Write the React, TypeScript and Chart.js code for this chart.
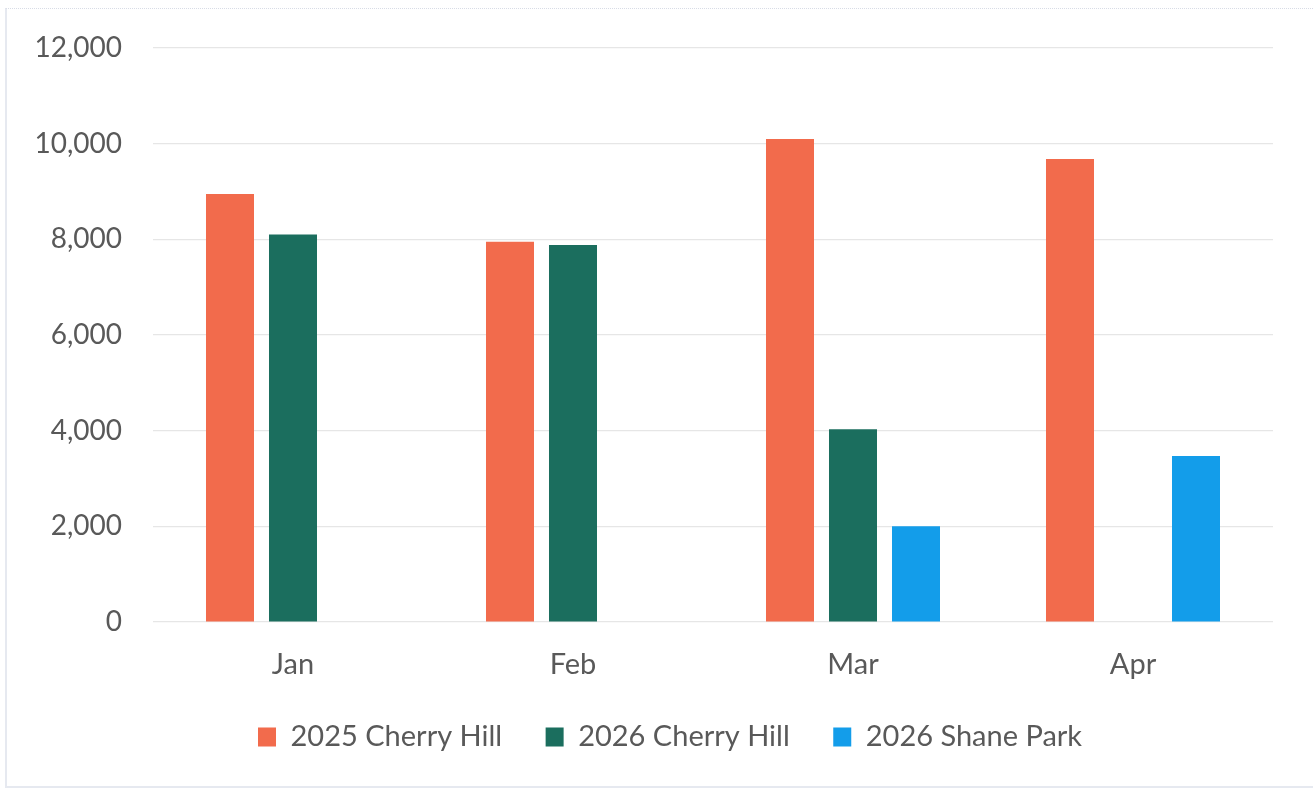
import React, { useEffect, useRef } from "react";
import { Chart, registerables } from "chart.js";

Chart.register(...registerables);

const categories = ["Jan", "Feb", "Mar", "Apr"];
const seriesNames = ["2025 Cherry Hill", "2026 Cherry Hill", "2026 Shane Park"];
const cherryHill2025 = [8950, 7950, 10100, 9680];
const cherryHill2026 = [8100, 7880, 4030, null];
const shanePark2026 = [null, null, 2000, 3470];
const seriesColors = ["#F26B4C", "#1B6E5E", "#139DEA"];
const yMax = 12000;
const yStep = 2000;

const FONT = "Lato, 'Open Sans', sans-serif";
const TEXT = "#595959";
const LEGEND_PAD = 43.5;

const legendPlacer = {
  id: "legendPlacer",
  afterLayout(chart: any) {
    const lg = chart.legend;
    if (!lg) return;
    const h = lg.height;
    lg.top = 679;
    lg.bottom = lg.top + h;
    lg.left = 258 - LEGEND_PAD;
    lg.right = chart.width;
    lg.width = lg.right - lg.left;
  },
};

export default function App() {
  const canvasRef = useRef<HTMLCanvasElement | null>(null);

  useEffect(() => {
    document.body.style.margin = "0";
    const ctx = canvasRef.current!.getContext("2d")!;
    const seriesValues = [cherryHill2025, cherryHill2026, shanePark2026];
    const chart = new Chart(ctx, {
      type: "bar",
      data: {
        labels: categories,
        datasets: seriesNames.map((name, i) => ({
          label: name,
          data: seriesValues[i],
          backgroundColor: seriesColors[i],
          borderWidth: 0,
          categoryPercentage: 0.675,
          barPercentage: 0.762,
        })),
      },
      options: {
        animation: false,
        responsive: false,
        maintainAspectRatio: false,
        layout: { padding: { top: 48, right: 40, bottom: 17.5, left: 0 } },
        plugins: {
          title: { display: false },
          tooltip: { enabled: false },
          legend: {
            position: "bottom",
            align: "start",
            labels: {
              font: { family: FONT, size: 29 },
              color: TEXT,
              boxWidth: 18,
              boxHeight: 19,
              padding: LEGEND_PAD,
            },
          },
        },
        scales: {
          x: {
            grid: { display: false, drawTicks: false },
            border: { display: false },
            ticks: {
              font: { family: FONT, size: 29 },
              color: TEXT,
              padding: 25,
            },
            afterFit: (scale: any) => {
              scale.height = 68;
            },
          },
          y: {
            min: 0,
            max: yMax,
            grid: { color: "#E6E6E6", lineWidth: 1.2, drawTicks: false },
            border: { display: false },
            ticks: {
              stepSize: yStep,
              font: { family: FONT, size: 28 },
              color: TEXT,
              padding: 31,
            },
            afterFit: (scale: any) => {
              scale.width = 153;
            },
          },
        },
      },
      plugins: [legendPlacer],
    });
    return () => chart.destroy();
  }, []);

  return (
    <div style={{ position: "relative", width: 1313, height: 790, background: "#fff" }}>
      <div
        style={{
          position: "absolute",
          left: 5,
          top: 8,
          width: 1320,
          height: 777,
          borderLeft: "2px solid #E6E9F0",
          borderTop: "1px dotted #D8DCE6",
          borderBottom: "2px solid #E6E9F0",
        }}
      />
      <canvas ref={canvasRef} width={1313} height={790} style={{ position: "absolute", left: 0, top: 0 }} />
    </div>
  );
}
